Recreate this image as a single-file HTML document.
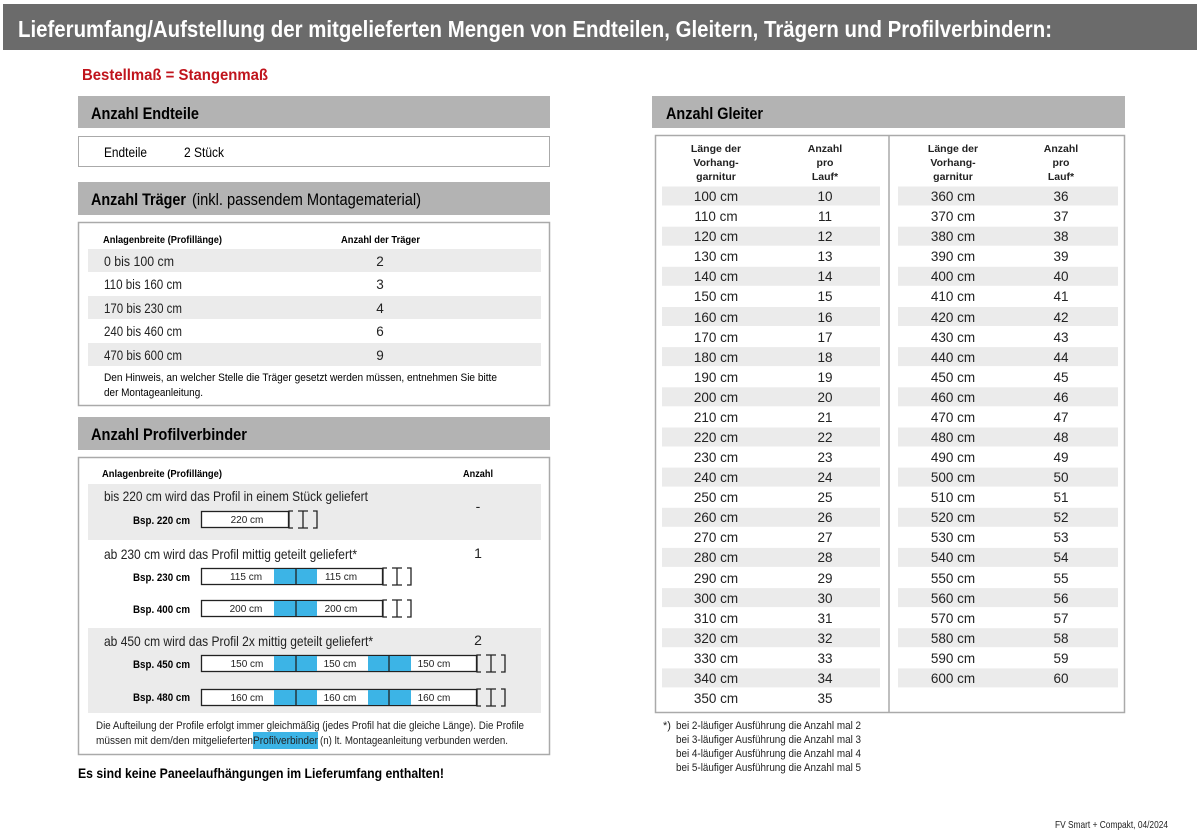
<!DOCTYPE html>
<html><head><meta charset="utf-8"><style>
html,body{margin:0;padding:0;background:#fff;}
svg{display:block;font-family:"Liberation Sans",sans-serif;}
.b{font-weight:bold;}
</style></head><body>
<svg width="1200" height="833" viewBox="0 0 1200 833" xmlns="http://www.w3.org/2000/svg">
<rect x="0" y="0" width="1200" height="833" fill="#fff"/>
<rect x="3" y="4" width="1194" height="46" fill="#6b6b6b"/>
<text x="18" y="37" font-size="23" class="b" fill="#fff" textLength="1034" lengthAdjust="spacingAndGlyphs">Lieferumfang/Aufstellung der mitgelieferten Mengen von Endteilen, Gleitern, Trägern und Profilverbindern:</text>
<text x="82" y="80" font-size="16" class="b" fill="#c0141c" textLength="186" lengthAdjust="spacingAndGlyphs">Bestellmaß = Stangenmaß</text>

<!-- Endteile -->
<rect x="78" y="96" width="472" height="32" fill="#b3b3b3"/>
<text x="91" y="119" font-size="17" class="b" textLength="108" lengthAdjust="spacingAndGlyphs">Anzahl Endteile</text>
<rect x="78.5" y="136.5" width="471" height="30" fill="#fff" stroke="#aaa"/>
<text x="104" y="157" font-size="14" textLength="43" lengthAdjust="spacingAndGlyphs">Endteile</text>
<text x="184" y="157" font-size="14" textLength="40" lengthAdjust="spacingAndGlyphs">2 Stück</text>

<!-- Träger -->
<rect x="78" y="182" width="472" height="33" fill="#b3b3b3"/>
<text x="91" y="205" font-size="17" class="b" textLength="95" lengthAdjust="spacingAndGlyphs">Anzahl Träger</text>
<text x="192" y="205" font-size="17" textLength="229" lengthAdjust="spacingAndGlyphs">(inkl. passendem Montagematerial)</text>
<rect x="78.5" y="222.5" width="471" height="183" fill="#fff" stroke="#aaa" stroke-width="1.5"/>
<text x="103" y="243" font-size="10.5" class="b" textLength="119" lengthAdjust="spacingAndGlyphs">Anlagenbreite (Profillänge)</text>
<text x="341" y="243" font-size="10.5" class="b" textLength="79" lengthAdjust="spacingAndGlyphs">Anzahl der Träger</text>
<g fill="#ebebeb">
<rect x="88" y="249" width="453" height="23"/>
<rect x="88" y="296" width="453" height="23"/>
<rect x="88" y="343" width="453" height="23"/>
</g>
<g font-size="13.5" fill="#222">
<text x="104" y="266" textLength="70" lengthAdjust="spacingAndGlyphs">0 bis 100 cm</text>
<text x="104" y="289" textLength="78" lengthAdjust="spacingAndGlyphs">110 bis 160 cm</text>
<text x="104" y="313" textLength="78" lengthAdjust="spacingAndGlyphs">170 bis 230 cm</text>
<text x="104" y="336" textLength="78" lengthAdjust="spacingAndGlyphs">240 bis 460 cm</text>
<text x="104" y="360" textLength="78" lengthAdjust="spacingAndGlyphs">470 bis 600 cm</text>
<g text-anchor="middle">
<text x="380" y="266">2</text><text x="380" y="289">3</text><text x="380" y="313">4</text><text x="380" y="336">6</text><text x="380" y="360">9</text>
</g></g>
<text x="104" y="381" font-size="11" textLength="393" lengthAdjust="spacingAndGlyphs">Den Hinweis, an welcher Stelle die Träger gesetzt werden müssen, entnehmen Sie bitte</text>
<text x="104" y="396" font-size="11" textLength="99" lengthAdjust="spacingAndGlyphs">der Montageanleitung.</text>

<!-- Profilverbinder -->
<rect x="78" y="417" width="472" height="33" fill="#b3b3b3"/>
<text x="91" y="440" font-size="17" class="b" textLength="156" lengthAdjust="spacingAndGlyphs">Anzahl Profilverbinder</text>
<rect x="78.5" y="457.5" width="471" height="297" fill="#fff" stroke="#aaa" stroke-width="1.5"/>
<text x="102" y="477" font-size="10.5" class="b" textLength="120" lengthAdjust="spacingAndGlyphs">Anlagenbreite (Profillänge)</text>
<text x="463" y="477" font-size="10.5" class="b" textLength="30" lengthAdjust="spacingAndGlyphs">Anzahl</text>
<rect x="88" y="484" width="453" height="56" fill="#ebebeb"/>
<rect x="88" y="628" width="453" height="85" fill="#ebebeb"/>
<g font-size="14" fill="#222">
<text x="104" y="501" textLength="264" lengthAdjust="spacingAndGlyphs">bis 220 cm wird das Profil in einem Stück geliefert</text>
<text x="104" y="559" textLength="253" lengthAdjust="spacingAndGlyphs">ab 230 cm wird das Profil mittig geteilt geliefert*</text>
<text x="104" y="646" textLength="269" lengthAdjust="spacingAndGlyphs">ab 450 cm wird das Profil 2x mittig geteilt geliefert*</text>
<text x="478" y="511" text-anchor="middle">-</text>
<text x="478" y="558" text-anchor="middle">1</text>
<text x="478" y="645" text-anchor="middle">2</text>
</g>
<g font-size="11" class="b">
<text x="133" y="524" textLength="57" lengthAdjust="spacingAndGlyphs">Bsp. 220 cm</text>
<text x="133" y="581" textLength="57" lengthAdjust="spacingAndGlyphs">Bsp. 230 cm</text>
<text x="133" y="613" textLength="57" lengthAdjust="spacingAndGlyphs">Bsp. 400 cm</text>
<text x="133" y="668" textLength="57" lengthAdjust="spacingAndGlyphs">Bsp. 450 cm</text>
<text x="133" y="701" textLength="57" lengthAdjust="spacingAndGlyphs">Bsp. 480 cm</text>
</g>
<!-- bars -->
<g stroke="#222" stroke-width="1.3" fill="#fff">
<rect x="201.5" y="511.5" width="87" height="16"/>
<rect x="201.5" y="568.5" width="181" height="16"/>
<rect x="201.5" y="600.5" width="181" height="16"/>
<rect x="201.5" y="655.5" width="275" height="16"/>
<rect x="201.5" y="689.5" width="275" height="16"/>
</g>
<g fill="#3cb4e6">
<rect x="274" y="569" width="43" height="15"/>
<rect x="274" y="601" width="43" height="15"/>
<rect x="274" y="656" width="43" height="15"/><rect x="368" y="656" width="43" height="15"/>
<rect x="274" y="690" width="43" height="15"/><rect x="368" y="690" width="43" height="15"/>
</g>
<g stroke="#222" stroke-width="1.3">
<line x1="296" y1="568" x2="296" y2="585"/><line x1="296" y1="600" x2="296" y2="617"/>
<line x1="296" y1="655" x2="296" y2="672"/><line x1="389" y1="655" x2="389" y2="672"/>
<line x1="296" y1="689" x2="296" y2="706"/><line x1="389" y1="689" x2="389" y2="706"/>
</g>
<g font-size="10" text-anchor="middle" fill="#222">
<text x="247" y="523">220 cm</text>
<text x="246" y="580">115 cm</text><text x="341" y="580">115 cm</text>
<text x="246" y="612">200 cm</text><text x="341" y="612">200 cm</text>
<text x="247" y="667">150 cm</text><text x="340" y="667">150 cm</text><text x="434" y="667">150 cm</text>
<text x="247" y="701">160 cm</text><text x="340" y="701">160 cm</text><text x="434" y="701">160 cm</text>
</g>
<!-- brackets -->
<defs>
<g id="br" fill="none" stroke="#222" stroke-width="1.3">
<path d="M4 0 H0 V17 H4"/><path d="M9 0 H19 M14 0 V17 M9 17 H19"/><path d="M24 0 H28 V17 H24"/>
</g>
</defs>
<use href="#br" x="289" y="511"/>
<use href="#br" x="383" y="568"/>
<use href="#br" x="383" y="600"/>
<use href="#br" x="477" y="655"/>
<use href="#br" x="477" y="689"/>
<rect x="253" y="732" width="65" height="17" fill="#3cb4e6"/>
<g font-size="11" fill="#222">
<text x="96" y="729" textLength="428" lengthAdjust="spacingAndGlyphs">Die Aufteilung der Profile erfolgt immer gleichmäßig (jedes Profil hat die gleiche Länge). Die Profile</text>
<text x="96" y="744" textLength="157" lengthAdjust="spacingAndGlyphs">müssen mit dem/den mitgelieferten</text>
<text x="253" y="744" textLength="65" lengthAdjust="spacingAndGlyphs">Profilverbinder</text>
<text x="320" y="744" textLength="188" lengthAdjust="spacingAndGlyphs">(n) lt. Montageanleitung verbunden werden.</text>
</g>
<text x="78" y="778" font-size="14" class="b" textLength="366" lengthAdjust="spacingAndGlyphs">Es sind keine Paneelaufhängungen im Lieferumfang enthalten!</text>

<!-- Gleiter -->
<rect x="652" y="96" width="473" height="32" fill="#b3b3b3"/>
<text x="666" y="119" font-size="17" class="b" textLength="97" lengthAdjust="spacingAndGlyphs">Anzahl Gleiter</text>
<rect x="655.5" y="135.5" width="469" height="577" fill="#fff" stroke="#aaa" stroke-width="1.5"/>
<line x1="889" y1="136" x2="889" y2="712" stroke="#aaa" stroke-width="1.5"/>
<g font-size="10.5" class="b" text-anchor="middle" fill="#222">
<text x="716" y="152">Länge der</text><text x="716" y="166">Vorhang-</text><text x="716" y="180">garnitur</text>
<text x="825" y="152">Anzahl</text><text x="825" y="166">pro</text><text x="825" y="180">Lauf*</text>
<text x="953" y="152">Länge der</text><text x="953" y="166">Vorhang-</text><text x="953" y="180">garnitur</text>
<text x="1061" y="152">Anzahl</text><text x="1061" y="166">pro</text><text x="1061" y="180">Lauf*</text>
</g>
<g fill="#ebebeb">
<rect x="662" y="186.5" width="218" height="19"/><rect x="898" y="186.5" width="220" height="19"/>
<rect x="662" y="226.7" width="218" height="19"/><rect x="898" y="226.7" width="220" height="19"/>
<rect x="662" y="266.8" width="218" height="19"/><rect x="898" y="266.8" width="220" height="19"/>
<rect x="662" y="307" width="218" height="19"/><rect x="898" y="307" width="220" height="19"/>
<rect x="662" y="347.1" width="218" height="19"/><rect x="898" y="347.1" width="220" height="19"/>
<rect x="662" y="387.3" width="218" height="19"/><rect x="898" y="387.3" width="220" height="19"/>
<rect x="662" y="427.5" width="218" height="19"/><rect x="898" y="427.5" width="220" height="19"/>
<rect x="662" y="467.6" width="218" height="19"/><rect x="898" y="467.6" width="220" height="19"/>
<rect x="662" y="507.8" width="218" height="19"/><rect x="898" y="507.8" width="220" height="19"/>
<rect x="662" y="547.9" width="218" height="19"/><rect x="898" y="547.9" width="220" height="19"/>
<rect x="662" y="588.1" width="218" height="19"/><rect x="898" y="588.1" width="220" height="19"/>
<rect x="662" y="628.2" width="218" height="19"/><rect x="898" y="628.2" width="220" height="19"/>
<rect x="662" y="668.4" width="218" height="19"/><rect x="898" y="668.4" width="220" height="19"/>
</g>
<g font-size="13.5" text-anchor="middle" fill="#222">
<text x="716" y="201">100 cm</text><text x="825" y="201">10</text><text x="953" y="201">360 cm</text><text x="1061" y="201">36</text>
<text x="716" y="221">110 cm</text><text x="825" y="221">11</text><text x="953" y="221">370 cm</text><text x="1061" y="221">37</text>
<text x="716" y="241">120 cm</text><text x="825" y="241">12</text><text x="953" y="241">380 cm</text><text x="1061" y="241">38</text>
<text x="716" y="261">130 cm</text><text x="825" y="261">13</text><text x="953" y="261">390 cm</text><text x="1061" y="261">39</text>
<text x="716" y="281">140 cm</text><text x="825" y="281">14</text><text x="953" y="281">400 cm</text><text x="1061" y="281">40</text>
<text x="716" y="301">150 cm</text><text x="825" y="301">15</text><text x="953" y="301">410 cm</text><text x="1061" y="301">41</text>
<text x="716" y="322">160 cm</text><text x="825" y="322">16</text><text x="953" y="322">420 cm</text><text x="1061" y="322">42</text>
<text x="716" y="342">170 cm</text><text x="825" y="342">17</text><text x="953" y="342">430 cm</text><text x="1061" y="342">43</text>
<text x="716" y="362">180 cm</text><text x="825" y="362">18</text><text x="953" y="362">440 cm</text><text x="1061" y="362">44</text>
<text x="716" y="382">190 cm</text><text x="825" y="382">19</text><text x="953" y="382">450 cm</text><text x="1061" y="382">45</text>
<text x="716" y="402">200 cm</text><text x="825" y="402">20</text><text x="953" y="402">460 cm</text><text x="1061" y="402">46</text>
<text x="716" y="422">210 cm</text><text x="825" y="422">21</text><text x="953" y="422">470 cm</text><text x="1061" y="422">47</text>
<text x="716" y="442">220 cm</text><text x="825" y="442">22</text><text x="953" y="442">480 cm</text><text x="1061" y="442">48</text>
<text x="716" y="462">230 cm</text><text x="825" y="462">23</text><text x="953" y="462">490 cm</text><text x="1061" y="462">49</text>
<text x="716" y="482">240 cm</text><text x="825" y="482">24</text><text x="953" y="482">500 cm</text><text x="1061" y="482">50</text>
<text x="716" y="502">250 cm</text><text x="825" y="502">25</text><text x="953" y="502">510 cm</text><text x="1061" y="502">51</text>
<text x="716" y="522">260 cm</text><text x="825" y="522">26</text><text x="953" y="522">520 cm</text><text x="1061" y="522">52</text>
<text x="716" y="542">270 cm</text><text x="825" y="542">27</text><text x="953" y="542">530 cm</text><text x="1061" y="542">53</text>
<text x="716" y="562">280 cm</text><text x="825" y="562">28</text><text x="953" y="562">540 cm</text><text x="1061" y="562">54</text>
<text x="716" y="583">290 cm</text><text x="825" y="583">29</text><text x="953" y="583">550 cm</text><text x="1061" y="583">55</text>
<text x="716" y="603">300 cm</text><text x="825" y="603">30</text><text x="953" y="603">560 cm</text><text x="1061" y="603">56</text>
<text x="716" y="623">310 cm</text><text x="825" y="623">31</text><text x="953" y="623">570 cm</text><text x="1061" y="623">57</text>
<text x="716" y="643">320 cm</text><text x="825" y="643">32</text><text x="953" y="643">580 cm</text><text x="1061" y="643">58</text>
<text x="716" y="663">330 cm</text><text x="825" y="663">33</text><text x="953" y="663">590 cm</text><text x="1061" y="663">59</text>
<text x="716" y="683">340 cm</text><text x="825" y="683">34</text><text x="953" y="683">600 cm</text><text x="1061" y="683">60</text>
<text x="716" y="703">350 cm</text><text x="825" y="703">35</text>
</g>
<g font-size="11" fill="#222">
<text x="663" y="729">*)</text>
<text x="676" y="729" textLength="185" lengthAdjust="spacingAndGlyphs">bei 2-läufiger Ausführung die Anzahl mal 2</text>
<text x="676" y="743" textLength="185" lengthAdjust="spacingAndGlyphs">bei 3-läufiger Ausführung die Anzahl mal 3</text>
<text x="676" y="757" textLength="185" lengthAdjust="spacingAndGlyphs">bei 4-läufiger Ausführung die Anzahl mal 4</text>
<text x="676" y="771" textLength="185" lengthAdjust="spacingAndGlyphs">bei 5-läufiger Ausführung die Anzahl mal 5</text>
<text x="1055" y="828" font-size="10.5" textLength="113" lengthAdjust="spacingAndGlyphs">FV Smart + Compakt, 04/2024</text>
</g>
</svg>
</body></html>
